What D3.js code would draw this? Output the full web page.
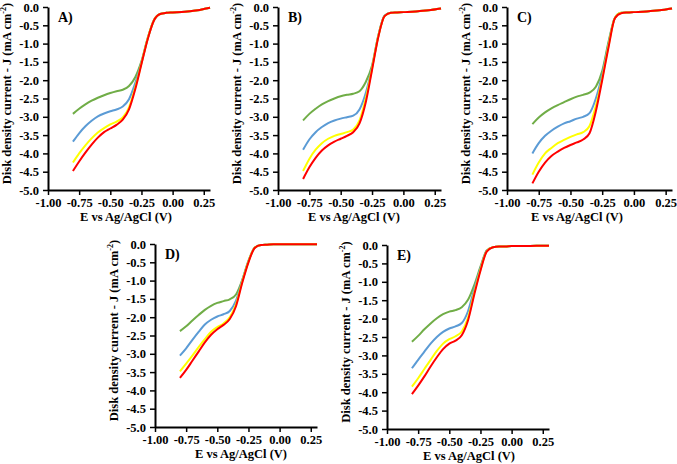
<!DOCTYPE html>
<html>
<head>
<meta charset="utf-8">
<script src="https://cdn.jsdelivr.net/npm/d3@7"></script>
<style>
  body { margin: 0; background: #fff; }
  text { font-family: "Liberation Serif", "Times New Roman", serif; font-weight: bold; }
</style>
</head>
<body>
<div id="main"></div>
<script>
const ctx = { w: 677, h: 464 };

// potential (V vs Ag/AgCl) shared by every curve
const potential = [-0.8, -0.75, -0.7, -0.65, -0.6, -0.55, -0.5, -0.45, -0.4, -0.35,
                   -0.3, -0.25, -0.2, -0.15, -0.1, -0.05, 0, 0.1, 0.2, 0.3];

// disk current density J (mA cm-2)
const greenA  = [-2.92, -2.78, -2.66, -2.56, -2.48, -2.41, -2.35, -2.30, -2.26, -2.16, -1.92, -1.48, -0.85, -0.36, -0.19, -0.16, -0.15, -0.13, -0.09, -0.02];
const blueA   = [-3.68, -3.45, -3.26, -3.11, -2.99, -2.91, -2.85, -2.80, -2.72, -2.52, -2.08, -1.52, -0.86, -0.36, -0.19, -0.16, -0.15, -0.13, -0.09, -0.02];
const yellowA = [-4.25, -4.00, -3.78, -3.59, -3.43, -3.31, -3.21, -3.13, -3.02, -2.74, -2.20, -1.54, -0.86, -0.36, -0.19, -0.16, -0.15, -0.13, -0.09, -0.02];
const redA    = [-4.48, -4.22, -3.98, -3.76, -3.57, -3.42, -3.32, -3.22, -3.08, -2.80, -2.25, -1.56, -0.88, -0.37, -0.19, -0.16, -0.15, -0.13, -0.09, -0.02];

const greenB  = [-3.10, -2.92, -2.78, -2.66, -2.57, -2.50, -2.44, -2.40, -2.37, -2.30, -2.05, -1.60, -0.78, -0.24, -0.16, -0.15, -0.14, -0.12, -0.09, -0.04];
const blueB   = [-3.90, -3.62, -3.42, -3.28, -3.17, -3.10, -3.05, -3.01, -2.97, -2.80, -2.35, -1.65, -0.79, -0.24, -0.16, -0.15, -0.14, -0.12, -0.09, -0.04];
const yellowB = [-4.48, -4.15, -3.90, -3.72, -3.60, -3.52, -3.47, -3.42, -3.35, -3.10, -2.50, -1.68, -0.80, -0.25, -0.16, -0.15, -0.14, -0.12, -0.09, -0.04];
const redB    = [-4.70, -4.38, -4.12, -3.92, -3.78, -3.68, -3.60, -3.52, -3.42, -3.18, -2.60, -1.72, -0.82, -0.25, -0.16, -0.15, -0.14, -0.12, -0.09, -0.04];

const greenC  = [-3.20, -3.02, -2.88, -2.77, -2.68, -2.60, -2.52, -2.45, -2.40, -2.34, -2.18, -1.75, -0.95, -0.30, -0.16, -0.15, -0.14, -0.12, -0.09, -0.04];
const blueC   = [-4.00, -3.72, -3.52, -3.38, -3.27, -3.18, -3.12, -3.05, -3.00, -2.90, -2.50, -1.85, -1.00, -0.30, -0.16, -0.15, -0.14, -0.12, -0.09, -0.04];
const yellowC = [-4.58, -4.25, -4.00, -3.85, -3.72, -3.63, -3.55, -3.48, -3.42, -3.25, -2.70, -1.95, -1.05, -0.30, -0.16, -0.15, -0.14, -0.12, -0.09, -0.04];
const redC    = [-4.82, -4.50, -4.25, -4.07, -3.95, -3.85, -3.77, -3.70, -3.62, -3.45, -2.85, -2.00, -1.10, -0.31, -0.17, -0.15, -0.14, -0.12, -0.09, -0.04];

const greenD  = [-2.38, -2.25, -2.09, -1.94, -1.80, -1.69, -1.61, -1.56, -1.51, -1.38, -0.98, -0.46, -0.10, -0.03, -0.02, -0.01, -0.01, -0.01, -0.01, -0.01];
const blueD   = [-3.05, -2.85, -2.62, -2.40, -2.20, -2.07, -1.98, -1.92, -1.83, -1.55, -1.00, -0.47, -0.10, -0.03, -0.02, -0.01, -0.01, -0.01, -0.01, -0.01];
const yellowD = [-3.48, -3.27, -3.05, -2.82, -2.60, -2.40, -2.27, -2.17, -2.00, -1.65, -1.03, -0.48, -0.10, -0.03, -0.02, -0.01, -0.01, -0.01, -0.01, -0.01];
const redD    = [-3.66, -3.44, -3.19, -2.94, -2.69, -2.48, -2.33, -2.21, -2.05, -1.70, -1.06, -0.50, -0.11, -0.03, -0.02, -0.01, -0.01, -0.01, -0.01, -0.01];

const greenE  = [-2.63, -2.47, -2.29, -2.13, -1.99, -1.88, -1.81, -1.77, -1.69, -1.49, -1.09, -0.59, -0.15, -0.06, -0.04, -0.04, -0.03, -0.03, -0.02, -0.02];
const blueE   = [-3.35, -3.12, -2.90, -2.68, -2.50, -2.36, -2.27, -2.21, -2.12, -1.80, -1.20, -0.63, -0.16, -0.06, -0.04, -0.04, -0.03, -0.03, -0.02, -0.02];
const yellowE = [-3.85, -3.62, -3.37, -3.12, -2.88, -2.68, -2.56, -2.48, -2.35, -1.98, -1.30, -0.67, -0.17, -0.06, -0.04, -0.04, -0.03, -0.03, -0.02, -0.02];
const redE    = [-4.05, -3.82, -3.57, -3.30, -3.05, -2.83, -2.68, -2.60, -2.45, -2.05, -1.35, -0.70, -0.18, -0.06, -0.04, -0.04, -0.03, -0.03, -0.02, -0.02];

const seriesColors = ["#70ad47", "#5b9bd5", "#ffff00", "#ff0000"];
const xTicks = [-1.0, -0.75, -0.5, -0.25, 0, 0.25];
const yTicks = [0, -0.5, -1, -1.5, -2, -2.5, -3, -3.5, -4, -4.5, -5];

// panel placement: left edge of axis, right end, top and bottom of y axis
const panels = [
    { label: "A)", curves: [greenA, blueA, yellowA, redA], x0: 48,  x1: 210, y0: 7,   y1: 190, tx: 78 },
    { label: "B)", curves: [greenB, blueB, yellowB, redB], x0: 278, x1: 441, y0: 7,   y1: 190, tx: 76 },
    { label: "C)", curves: [greenC, blueC, yellowC, redC], x0: 507, x1: 672, y0: 7,   y1: 190, tx: 70 },
    { label: "D)", curves: [greenD, blueD, yellowD, redD], x0: 155, x1: 317, y0: 244, y1: 427, tx: 86 },
    { label: "E)", curves: [greenE, blueE, yellowE, redE], x0: 387, x1: 549, y0: 245, y1: 429, tx: 82 }
];

function drawPanel(svg, p) {
    let g = svg.append("g");
    let xScale = d3.scaleLinear().domain([-1.0, 0.3]).range([p.x0, p.x1]);
    let yScale = d3.scaleLinear().domain([0, -5]).range([p.y0, p.y1]);

    // curves first, red on top
    let line = d3.line()
        .curve(d3.curveMonotoneX)
        .x((d, i) => xScale(potential[i]))
        .y((d) => yScale(d));
    p.curves.forEach((c, i) => {
        g.append("path")
            .datum(c)
            .attr("fill", "none")
            .attr("stroke", seriesColors[i])
            .attr("stroke-width", 2)
            .attr("d", line);
    });

    let yAxis = d3.axisLeft(yScale).tickValues(yTicks)
        .tickFormat((d) => d.toFixed(1)).tickSize(5).tickSizeOuter(0).tickPadding(4);
    let yG = g.append("g").attr("transform", `translate(${p.x0},0)`).call(yAxis);

    let xAxis = d3.axisBottom(xScale).tickValues(xTicks)
        .tickFormat((d) => d.toFixed(2)).tickSize(5).tickSizeOuter(0).tickPadding(3);
    let xG = g.append("g").attr("transform", `translate(0,${p.y1})`).call(xAxis);

    [yG, xG].forEach((a) => {
        a.select(".domain").attr("stroke", "#000").attr("stroke-width", 2);
        a.selectAll(".tick line").attr("stroke", "#000").attr("stroke-width", 1.5);
        a.selectAll(".tick text")
            .attr("font-family", "Liberation Serif")
            .attr("font-weight", "bold")
            .attr("font-size", 12.5)
            .attr("fill", "#000");
    });

    // panel letter
    g.append("text")
        .attr("x", p.x0 + 10)
        .attr("y", p.y0 + 15)
        .attr("font-size", 14)
        .text(p.label);

    // axis titles
    g.append("text")
        .attr("x", p.x0 + p.tx)
        .attr("y", p.y1 + 31)
        .attr("text-anchor", "middle")
        .attr("font-size", 12.5)
        .text("E vs Ag/AgCl (V)");

    let yt = g.append("text")
        .attr("transform", `translate(${p.x0 - 37},${(p.y0 + p.y1) / 2 - 5}) rotate(-90)`)
        .attr("text-anchor", "middle")
        .attr("font-size", 12.5);
    yt.append("tspan").text("Disk density current - J (mA cm");
    yt.append("tspan").attr("font-size", 8).attr("dy", -5).text("-2");
    yt.append("tspan").attr("dy", 5).text(")");
}

function createViz() {
    let svg = d3.select("#main").append("svg")
        .attr("width", ctx.w)
        .attr("height", ctx.h);
    panels.forEach((p) => drawPanel(svg, p));
}

createViz();
</script>
</body>
</html>
